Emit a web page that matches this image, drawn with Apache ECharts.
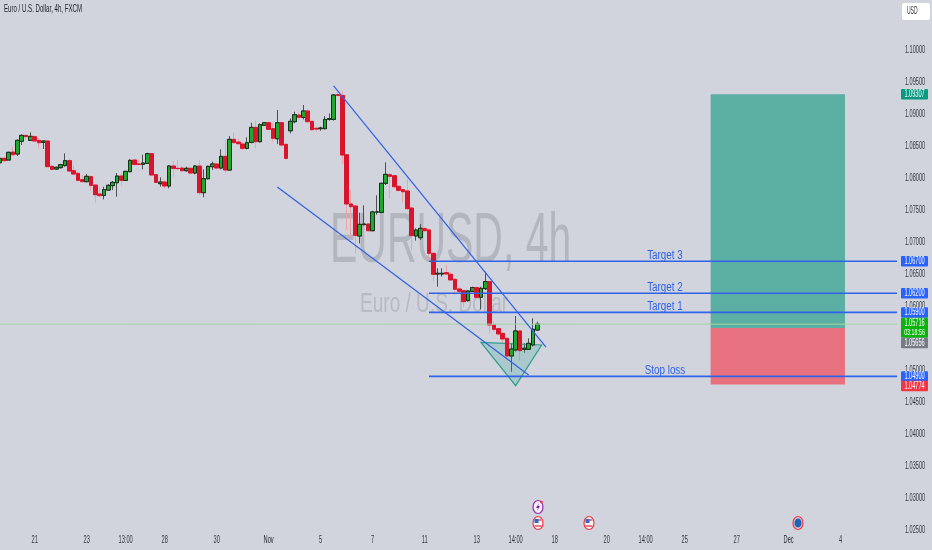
<!DOCTYPE html>
<html><head><meta charset="utf-8">
<style>html,body{margin:0;padding:0;background:#d1d4dc}#c{width:932px;height:550px}</style>
<script src="https://cdn.jsdelivr.net/npm/echarts@6/dist/echarts.min.js"></script></head>
<body><div id="c"></div>
<script>
const opens=[1.08239,1.08307,1.08281,1.08406,1.08375,1.08573,1.08666,1.08588,1.08646,1.08588,1.08557,1.08578,1.08182,1.08140,1.08161,1.08193,1.08271,1.08114,1.08073,1.07974,1.07943,1.08021,1.07890,1.07750,1.07729,1.07812,1.07880,1.07927,1.08031,1.07963,1.08099,1.08281,1.08219,1.08213,1.08229,1.08380,1.08052,1.07911,1.07937,1.07875,1.08187,1.08151,1.08156,1.08114,1.08151,1.08078,1.08187,1.07771,1.07989,1.08177,1.08219,1.08156,1.08338,1.08125,1.08604,1.08562,1.08531,1.08463,1.08557,1.08791,1.08568,1.08823,1.08864,1.08771,1.08614,1.08864,1.08526,1.08739,1.08880,1.08984,1.08948,1.09047,1.08885,1.08776,1.08771,1.08771,1.08916,1.08916,1.09302,1.09291,1.08364,1.07594,1.07562,1.07094,1.07271,1.07281,1.07177,1.07469,1.07463,1.07917,1.08052,1.08036,1.07870,1.07818,1.07797,1.07531,1.07094,1.07068,1.07208,1.07188,1.06823,1.06500,1.06500,1.06521,1.06495,1.06417,1.06266,1.06240,1.06084,1.06229,1.06287,1.06136,1.06271,1.06381,1.05703,1.05646,1.05573,1.05495,1.05219,1.05313,1.05610,1.05323,1.05323,1.05391,1.05625];
const closes=[1.08307,1.08271,1.08401,1.08364,1.08588,1.08666,1.08646,1.08651,1.08578,1.08552,1.08578,1.08177,1.08135,1.08167,1.08208,1.08271,1.08109,1.08062,1.07963,1.07943,1.08026,1.07885,1.07739,1.07724,1.07818,1.07885,1.07932,1.08031,1.07963,1.08104,1.08276,1.08213,1.08213,1.08234,1.08380,1.08047,1.07932,1.07937,1.07875,1.08187,1.08151,1.08146,1.08114,1.08151,1.08078,1.08187,1.07771,1.07989,1.08182,1.08219,1.08156,1.08338,1.08125,1.08604,1.08552,1.08536,1.08463,1.08552,1.08791,1.08568,1.08833,1.08864,1.08760,1.08620,1.08864,1.08515,1.08307,1.08885,1.08989,1.08948,1.09047,1.08880,1.08755,1.08765,1.08781,1.08916,1.08927,1.09297,1.09291,1.08359,1.07594,1.07552,1.07104,1.07276,1.07281,1.07177,1.07469,1.07469,1.07917,1.08057,1.08026,1.07864,1.07807,1.07786,1.07521,1.07099,1.07187,1.07213,1.07177,1.06823,1.06495,1.06511,1.06511,1.06500,1.06407,1.06261,1.06229,1.06068,1.06235,1.06287,1.06136,1.06276,1.06381,1.05703,1.05636,1.05563,1.05485,1.05219,1.05328,1.05610,1.05302,1.05339,1.05417,1.05636,1.05716];
const lows=[1.08203,1.08255,1.08281,1.08344,1.08344,1.08515,1.08594,1.08578,1.08568,1.08463,1.08453,1.08167,1.08114,1.08125,1.08151,1.08177,1.08099,1.08047,1.07943,1.07927,1.07932,1.07802,1.07614,1.07698,1.07667,1.07797,1.07812,1.07708,1.07885,1.07953,1.08088,1.08198,1.08198,1.08135,1.08219,1.08031,1.07917,1.07864,1.07833,1.07838,1.08021,1.08125,1.08099,1.08099,1.08068,1.08057,1.07734,1.07698,1.07979,1.08125,1.08135,1.08135,1.08083,1.08114,1.08541,1.08515,1.08437,1.08448,1.08541,1.08463,1.08552,1.08812,1.08750,1.08568,1.08531,1.08489,1.08291,1.08698,1.08854,1.08906,1.08916,1.08864,1.08739,1.08724,1.08739,1.08760,1.08896,1.08896,1.09271,1.08219,1.07187,1.07083,1.06823,1.06979,1.07260,1.07161,1.07167,1.07427,1.07448,1.07890,1.07677,1.07838,1.07786,1.07614,1.07500,1.06875,1.07021,1.07031,1.07161,1.06719,1.06381,1.06302,1.06459,1.06485,1.06396,1.06172,1.06198,1.05979,1.06068,1.06219,1.06120,1.05948,1.06250,1.05573,1.05599,1.05547,1.05417,1.05198,1.04974,1.05287,1.05146,1.05271,1.05313,1.05365,1.05615];
const highs=[1.08323,1.08333,1.08411,1.08489,1.08604,1.08682,1.08672,1.08713,1.08672,1.08630,1.08583,1.08578,1.08203,1.08177,1.08219,1.08385,1.08307,1.08187,1.08083,1.08047,1.08062,1.08047,1.07901,1.07864,1.07864,1.07906,1.07953,1.08078,1.08073,1.08114,1.08291,1.08291,1.08291,1.08364,1.08396,1.08385,1.08062,1.08010,1.07969,1.08203,1.08265,1.08281,1.08187,1.08177,1.08167,1.08203,1.08281,1.08135,1.08193,1.08255,1.08229,1.08448,1.08594,1.08656,1.08708,1.08620,1.08552,1.08635,1.08864,1.08896,1.08854,1.08875,1.08880,1.08854,1.09062,1.08880,1.08541,1.08932,1.09036,1.09021,1.09140,1.09073,1.08896,1.08802,1.08802,1.08969,1.09010,1.09312,1.09349,1.09364,1.08375,1.07812,1.07578,1.07458,1.07573,1.07292,1.07489,1.07729,1.07927,1.08245,1.08083,1.08047,1.07890,1.07838,1.07979,1.07542,1.07213,1.07281,1.07239,1.07214,1.06834,1.06589,1.06589,1.06641,1.06521,1.06427,1.06302,1.06250,1.06250,1.06302,1.06302,1.06302,1.06537,1.06391,1.05756,1.05657,1.05584,1.05506,1.05417,1.05844,1.05625,1.05417,1.05495,1.05808,1.05756];

const slotCount=208;
const slotNames=Array.from({length:slotCount},(_,i)=>'bar '+i);
const xTickSlots=[8,20,29,38,50,62,74,86,98,110,119,128,140,149,158,170,182,194];
const xTickLabels=['21','23','13:00','28','30','Nov','5','7','11','13','14:00','18','20','14:00','25','27','Dec','4'];
const yTicks=[1.10,1.095,1.09,1.085,1.08,1.075,1.07,1.065,1.06,1.05,1.045,1.04,1.035,1.03,1.025];

const levelNames=['Target 3','Target 2','Target 1','Stop loss'];
const levelPrices=[1.067,1.062,1.059,1.049];
const levelStart=99, levelEnd=207, levelLabelSlot=153;
const channelUpper=[[77,1.09438],[126,1.05359]];
const channelLower=[[64,1.07859],[122,1.04922]];
const triangle=[[111,1.05433],[125,1.05391],[119,1.04755]];
const profitZone=[164,195,1.09307,1.05656];
const lossZone=[164,195,1.05656,1.04774];
const lastPrice=1.05716;
const tagPrices=[1.09307,1.067,1.062,1.059,1.05716,1.05656,1.049,1.04774];
const tagTexts=['1.09307','1.06700','1.06200','1.05900','1.05716','1.05656','1.04900','1.04774'];
const tagSubs=['','','','','03:18:56','','',''];
const tagColors=['#089981','#2962ff','#2962ff','#2962ff','#0cb30c','#787b86','#2962ff','#f23645'];

const FONT='"Liberation Sans",sans-serif';
const chart=echarts.init(document.getElementById('c'),null,{renderer:'canvas'});
const fullCandles=opens.map((o,i)=>[o,closes[i],lows[i],highs[i]]);
const bodyCandles=opens.map((o,i)=>[o,closes[i],Math.min(o,closes[i]),Math.max(o,closes[i])]);
const lineSeries=(name,data,color,width)=>({type:'line',name,data,symbol:'none',silent:true,z:4,animation:false,clip:false,lineStyle:{color,width}});

function rectItem(color){return function(p,api){
  const a=api.coord([api.value(0),api.value(2)]),b=api.coord([api.value(1),api.value(3)]);
  return {type:'rect',shape:{x:a[0],y:a[1],width:b[0]-a[0],height:b[1]-a[1]},style:{fill:color}};
};}

chart.setOption({
  animation:false,backgroundColor:'#d1d4dc',
  grid:{left:-2.17,width:901.3,top:0,height:530,outerBoundsMode:'none',containLabel:false},
  xAxis:{type:'category',data:slotNames,boundaryGap:true,axisLine:{show:false},axisTick:{show:false},splitLine:{show:false},axisLabel:{show:false}},
  yAxis:{type:'value',position:'right',min:1.025,max:1.1078125,scale:true,axisLine:{show:false},axisTick:{show:false},splitLine:{show:false},axisLabel:{show:false}},
  graphic:[
    {type:'text',z:0,x:330,y:208,scaleX:.585,style:{text:'EURUSD, 4h',font:'70px '+FONT,fill:'#b3b6be'}},
    {type:'text',z:0,x:360,y:290,scaleX:.68,style:{text:'Euro / U.S. Dollar',font:'28px '+FONT,fill:'#b7bac2'}},
    {type:'text',z:20,x:4,y:3,scaleX:.555,style:{text:'Euro / U.S. Dollar, 4h, FXCM',font:'11px '+FONT,fill:'#1c1f27'}},
    {type:'rect',z:20,shape:{x:902,y:3,width:28,height:17,r:2},style:{fill:'#ffffff'}},
    {type:'text',z:21,x:907,y:6,scaleX:.5,style:{text:'USD',font:'10px '+FONT,fill:'#2a2e39'}},
    {type:'group',z:20,x:538,y:507,children:[
      {type:'ellipse',shape:{cx:0,cy:0,rx:5,ry:6.5},style:{fill:'#f3eef8',stroke:'#9c27b0',lineWidth:1.2}},
      {type:'polygon',shape:{points:[[1,-4],[-2,1],[0,1],[-1,4],[2,-1],[0,-1]]},style:{fill:'#7b1fa2'}},
      {type:'circle',shape:{cx:3.5,cy:-5,r:1.3},style:{fill:'#f23645'}}]},
    ...[538,589].map(x=>({type:'group',z:20,x,y:523,children:[
      {type:'ellipse',shape:{cx:0,cy:0,rx:5,ry:6.5},style:{fill:'#f3f3f6',stroke:'#f23645',lineWidth:1.2}},
      {type:'rect',shape:{x:-3.5,y:-4,width:7,height:2},style:{fill:'#e57b86'}},
      {type:'rect',shape:{x:-3.5,y:2,width:7,height:2},style:{fill:'#e57b86'}},
      {type:'rect',shape:{x:-3.5,y:-4,width:4,height:4},style:{fill:'#2f6dc5'}}]})),
    {type:'group',z:20,x:798,y:523,children:[
      {type:'ellipse',shape:{cx:0,cy:0,rx:5,ry:6.5},style:{fill:'#d1d4dc',stroke:'#f23645',lineWidth:1.2}},
      {type:'ellipse',shape:{cx:0,cy:0,rx:3.6,ry:4.6},style:{fill:'#1e63b5'}}]}
  ],
  series:[
    {type:'custom',name:'Profit zone',coordinateSystem:'cartesian2d',z:1,silent:true,renderItem:rectItem('#5cb0a3'),encode:{x:0,y:2},data:[profitZone]},
    {type:'custom',name:'Loss zone',coordinateSystem:'cartesian2d',z:1,silent:true,renderItem:rectItem('#e8717f'),encode:{x:0,y:2},data:[lossZone]},
    lineSeries('Last price',[[0,lastPrice],[207,lastPrice]],'#a3d6a3',1),
    {type:'candlestick',name:'Wicks',data:fullCandles,barWidth:4,z:2,silent:true,
      itemStyle:{color:'#1fa82e',color0:'#d8152c',borderColor:'#4b5150',borderColor0:'#eda3a8',borderWidth:1}},
    {type:'candlestick',name:'EUR/USD',data:bodyCandles,barWidth:4,z:3,silent:true,
      itemStyle:{color:'#1fa82e',color0:'#d8152c',borderColor:'#16301c',borderColor0:'#d8152c',borderWidth:1}},
    ...levelPrices.map((p,i)=>lineSeries(levelNames[i],[[levelStart,p],[levelEnd,p]],'#2f62e6',1.6)),
    lineSeries('Channel upper',channelUpper,'#2f62e6',1.2),
    lineSeries('Channel lower',channelLower,'#2f62e6',1.2),
    {type:'custom',name:'Triangle',coordinateSystem:'cartesian2d',z:3,silent:true,clip:false,encode:{x:0,y:1},data:triangle,
      renderItem:(p,api)=>p.dataIndex===0?{type:'polygon',shape:{points:triangle.map(t=>api.coord(t))},
        style:{fill:'rgba(38,166,154,0.22)',stroke:'#2d9d8c',lineWidth:1.2}}:null},
    {type:'custom',name:'Level labels',coordinateSystem:'cartesian2d',z:6,silent:true,clip:false,encode:{x:0,y:1},
      data:levelPrices.map(p=>[levelLabelSlot,p]),
      renderItem:(p,api)=>{const c=api.coord([api.value(0),api.value(1)]);
        return {type:'text',x:c[0]+2,y:c[1]-6,scaleX:.82,style:{text:levelNames[p.dataIndex],font:'12px '+FONT,fill:'#2f62e6',align:'center',verticalAlign:'middle'}};}},
    {type:'custom',name:'Y tick labels',coordinateSystem:'cartesian2d',z:5,silent:true,clip:false,encode:{x:0,y:1},
      data:yTicks.map(v=>[0,v]),
      renderItem:(p,api)=>({type:'text',x:915,y:api.coord([0,api.value(1)])[1],scaleX:.56,
        style:{text:api.value(1).toFixed(5),font:'10px '+FONT,fill:'#33363e',align:'center',verticalAlign:'middle'}})},
    {type:'custom',name:'X tick labels',coordinateSystem:'cartesian2d',z:5,silent:true,clip:false,encode:{x:0,y:1},
      data:xTickSlots.map(s=>[s,1.025]),
      renderItem:(p,api)=>{const c=api.coord([api.value(0),api.value(1)]);const t=xTickLabels[p.dataIndex];
        return {type:'text',x:c[0],y:c[1]+10,scaleX:.57,style:{text:t,font:'10px '+FONT,fill:(t==='Nov'||t==='Dec')?'#1c1f27':'#33363e',align:'center',verticalAlign:'middle'}};}},
    {type:'custom',name:'Price tags',coordinateSystem:'cartesian2d',z:10,silent:true,clip:false,encode:{x:0,y:1},
      data:tagPrices.map(p=>[0,p]),
      renderItem:(p,api)=>{const i=p.dataIndex;let y=api.coord([0,api.value(1)])[1];
        if(tagTexts[i]==='1.05656')y+=15; if(tagTexts[i]==='1.04774')y+=1.5;
        const h=tagSubs[i]?20:10.5, top=tagSubs[i]?y-6.5:y-5.25;
        const kids=[{type:'rect',shape:{x:901,y:top,width:27,height:h,r:1},style:{fill:tagColors[i]}},
          {type:'text',x:914.5,y:top+5.5,scaleX:.56,style:{text:tagTexts[i],font:'10px '+FONT,fill:'#ffffff',align:'center',verticalAlign:'middle'}}];
        if(tagSubs[i])kids.push({type:'text',x:914.5,y:top+14.5,scaleX:.56,style:{text:tagSubs[i],font:'9.5px '+FONT,fill:'#ffffff',align:'center',verticalAlign:'middle'}});
        return {type:'group',children:kids};}}
  ]
});
</script></body></html>
